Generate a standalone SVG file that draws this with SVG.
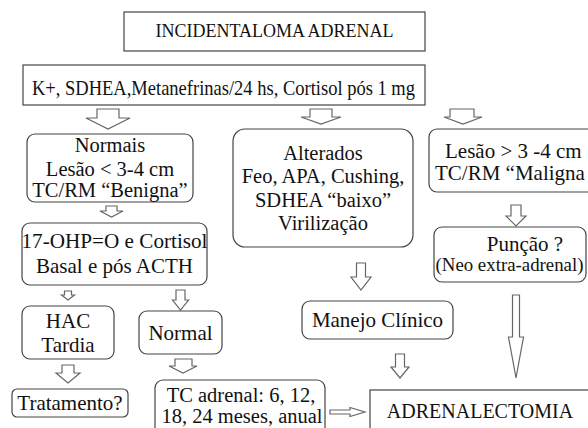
<svg xmlns="http://www.w3.org/2000/svg" width="588" height="428" viewBox="0 0 588 428">
<style>
.bx{fill:#fff;stroke:#444;stroke-width:1.2}
.ar{fill:#fff;stroke:#666;stroke-width:1.2;stroke-linejoin:miter}
text{font-family:"Liberation Serif","Times New Roman",serif;font-size:21px;fill:#111;text-anchor:middle}
text.s18{font-size:18px}
text.s20{font-size:20px}
text.s205{font-size:20.5px}
text.s215{font-size:21.5px}
text.st{text-anchor:start}
</style>
<rect width="588" height="428" fill="#fff"/>
<g id="connectors">
<polygon class="ar" points="97,109 119,109 119,118 130,118 108,129 86,118 97,118"/>
<polygon class="ar" points="310,109 332,109 332,117 341,117 321,124 301,117 310,117"/>
<polygon class="ar" points="450,109 474,109 474,117 482,117 463,124 444,117 450,117"/>
<polygon class="ar" points="106,206 117,206 117,211 123,211 111.5,217 100,211 106,211"/>
<polygon class="ar" points="64.5,291 71.5,291 71.5,295 74.5,295 68,300 61.5,295 64.5,295"/>
<polygon class="ar" points="176,290 185,290 185,300 188.5,300 180.5,310 172.5,300 176,300"/>
<polygon class="ar" points="62,365 74,365 74,373 80,373 68,383 56,373 62,373"/>
<polygon class="ar" points="175,359 192,359 192,366 197,366 183,373 169,366 175,366"/>
<polygon class="ar" points="511,205 521,205 521,216 526,216 516,226 506,216 511,216"/>
<polygon class="ar" points="356.5,263 365.5,263 365.5,277 371,277 361,290 351,277 356.5,277"/>
<polygon class="ar" points="395.5,354 404.5,354 404.5,367 409,367 400,378 391,367 395.5,367"/>
<polygon class="ar" points="512.5,295 519.5,295 519.5,337 523.5,337 516,378 508.5,337 512.5,337"/>
<polygon class="ar" points="330,410 350,410 350,407.5 365,412 350,416.5 350,414 330,414"/>
</g>
<g id="n-title">
<rect class="bx" x="124" y="12" width="301" height="39"/>
<text class="s18" x="274.5" y="37">INCIDENTALOMA ADRENAL</text>
</g>
<g id="n-exames">
<rect class="bx" x="23" y="65" width="402" height="40"/>
<text class="s215" x="223.5" y="95" textLength="383" lengthAdjust="spacingAndGlyphs">K+, SDHEA,Metanefrinas/24 hs, Cortisol pós 1 mg</text>
</g>
<g id="n-normais">
<rect class="bx" x="27" y="134" width="166" height="68" rx="8"/>
<text class="s205" x="110" y="152">Normais</text>
<text class="s205" x="110" y="175.5">Lesão &lt; 3-4 cm</text>
<text class="s205" x="110" y="197">TC/RM “Benigna”</text>
</g>
<g id="n-17ohp">
<rect class="bx" x="22" y="223" width="185" height="62" rx="8"/>
<text x="114.5" y="248" textLength="186" lengthAdjust="spacingAndGlyphs">17-OHP=O e Cortisol</text>
<text x="114.5" y="273">Basal e pós ACTH</text>
</g>
<g id="n-alterados">
<rect class="bx" x="233" y="129" width="180" height="118" rx="12"/>
<text class="s205" x="323" y="160">Alterados</text>
<text class="s205" x="323" y="183">Feo, APA, Cushing,</text>
<text class="s205" x="323" y="207">SDHEA “baixo”</text>
<text class="s205" x="323" y="230">Virilização</text>
</g>
<g id="n-lesao-maior">
<rect class="bx" x="429" y="129" width="170" height="63" rx="8"/>
<text class="st" x="445" y="157.5">Lesão &gt; 3 -4 cm</text>
<text class="st" x="435" y="180">TC/RM “Maligna</text>
</g>
<g id="n-puncao">
<rect class="bx" x="434" y="227" width="152" height="55" rx="8"/>
<text x="525" y="251">Punção ?</text>
<text class="s18" x="509.5" y="271" textLength="148" lengthAdjust="spacingAndGlyphs">(Neo extra-adrenal)</text>
</g>
<g id="n-hac">
<rect class="bx" x="22" y="306" width="92" height="53" rx="8"/>
<text x="68" y="328">HAC</text>
<text x="68" y="352">Tardia</text>
</g>
<g id="n-normal">
<rect class="bx" x="139" y="311" width="83" height="43" rx="8"/>
<text x="180.5" y="340">Normal</text>
</g>
<g id="n-manejo">
<rect class="bx" x="302" y="301" width="151" height="38" rx="8"/>
<text x="377.5" y="327">Manejo Clínico</text>
</g>
<g id="n-tratamento">
<rect class="bx" x="12" y="389" width="116" height="28" rx="5"/>
<text x="70" y="410">Tratamento?</text>
</g>
<g id="n-tc-adrenal">
<rect class="bx" x="155" y="380" width="170" height="60" rx="8"/>
<text class="s205" x="241" y="402">TC adrenal: 6, 12,</text>
<text class="s205" x="242" y="423">18, 24 meses, anual</text>
</g>
<g id="n-adrenalectomia">
<rect class="bx" x="370" y="390" width="230" height="50"/>
<text class="s20" x="480" y="418">ADRENALECTOMIA</text>
</g>
</svg>
